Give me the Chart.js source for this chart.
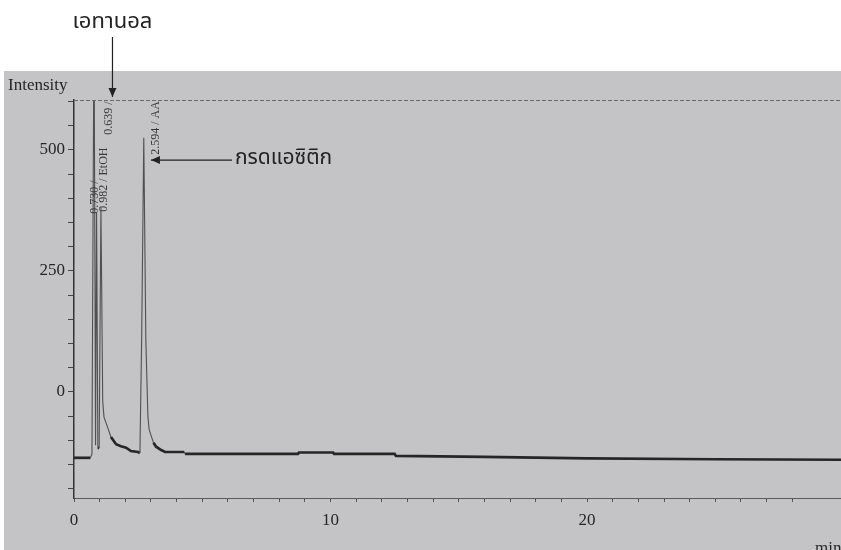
<!DOCTYPE html>
<html>
<head>
<meta charset="utf-8">
<script src="https://cdn.jsdelivr.net/npm/chart.js@4.4.3/dist/chart.umd.min.js"></script>
<style>
  html, body { margin: 0; padding: 0; background: #fff; }
  #chromatogram { display: block; }
</style>
</head>
<body>
<canvas id="chromatogram" width="841" height="550"></canvas>
<script>
// retention time (min) and detector intensity
const timeMin = [
  0, 0.64, 0.70, 0.78, 0.84, 0.88, 0.93, 0.98, 1.05, 1.12, 1.17,
  1.29, 1.44, 1.64, 1.83, 2.03, 2.22, 2.50, 2.57, 2.64, 2.72, 2.80,
  2.88, 2.93, 3.10, 3.20, 3.40, 3.55, 4.30, 4.33, 8.73, 8.77, 10.10,
  10.14, 12.50, 12.55, 16.0, 20.0, 25.0, 30.0
];
const intensity = [
  -136, -136, -128, 780, -110, 370, -115, -116, 380, -20, -52,
  -70, -93, -108, -112, -115, -122, -124, -126, 120, 525, 110,
  -50, -78, -105, -113, -120, -124, -124, -128, -128, -125, -125,
  -128, -128, -132, -134, -137, -139, -140
];
const yTickValues = [-200, -150, -100, -50, 0, 50, 100, 150, 200, 250, 300, 350, 400, 450, 500, 550, 600];
const yLabelled = [0, 250, 500];
const xLabelled = [0, 10, 20];
const peakLabels = ["0.730 /", "0.982 / EtOH", "0.639 /", "2.594 / AA"];
const ethanolLabel = "เอทานอล";
const aceticLabel = "กรดแอซิติก";

const ink = "#262626";
const serif = "'Liberation Serif', 'Times New Roman', serif";
const thai = "'Noto Sans Thai', 'Noto Sans Thai UI', Loma, Garuda, 'Tlwg Typo', 'DejaVu Sans', sans-serif";

function arrow(ctx, x0, y0, x1, y1) {
  const a = Math.atan2(y1 - y0, x1 - x0);
  ctx.beginPath();
  ctx.moveTo(x0, y0);
  ctx.lineTo(x1, y1);
  ctx.stroke();
  ctx.beginPath();
  ctx.moveTo(x1, y1);
  ctx.lineTo(x1 - 9 * Math.cos(a) + 4 * Math.sin(a), y1 - 9 * Math.sin(a) - 4 * Math.cos(a));
  ctx.lineTo(x1 - 9 * Math.cos(a) - 4 * Math.sin(a), y1 - 9 * Math.sin(a) + 4 * Math.cos(a));
  ctx.closePath();
  ctx.fill();
}

const paperPlugin = {
  id: "paper",
  beforeDraw(chart) {
    const ctx = chart.ctx;
    ctx.save();
    ctx.fillStyle = "#ffffff";
    ctx.fillRect(0, 0, chart.width, chart.height);
    ctx.fillStyle = "#c4c4c6";
    ctx.fillRect(4, 71, chart.width - 4, chart.height - 71);
    ctx.restore();
  },
  afterDraw(chart) {
    const { ctx, chartArea } = chart;
    const xs = chart.scales.x, ys = chart.scales.y;
    ctx.save();
    // dashed top frame line
    ctx.strokeStyle = "#6a6a6a";
    ctx.lineWidth = 1;
    ctx.setLineDash([4, 2]);
    ctx.beginPath();
    ctx.moveTo(chartArea.left, chartArea.top + 0.5);
    ctx.lineTo(chart.width, chartArea.top + 0.5);
    ctx.stroke();
    ctx.setLineDash([]);

    ctx.fillStyle = ink;
    ctx.font = "17px " + serif;
    ctx.textBaseline = "alphabetic";
    ctx.textAlign = "left";
    ctx.fillText("Intensity", 8, 90);
    ctx.fillText("min", 815, 553);

    // rotated peak labels
    const spots = [[0.80, 368], [1.15, 372], [1.35, 531], [3.2, 490]];
    ctx.font = "12px " + serif;
    ctx.fillStyle = "#3a3a3a";
    peakLabels.forEach((txt, i) => {
      ctx.save();
      ctx.translate(xs.getPixelForValue(spots[i][0]), ys.getPixelForValue(spots[i][1]));
      ctx.rotate(-Math.PI / 2);
      ctx.textAlign = "left";
      ctx.textBaseline = "middle";
      ctx.fillText(txt, 0, 0);
      ctx.restore();
    });

    // annotations
    ctx.strokeStyle = "#222";
    ctx.fillStyle = "#222";
    ctx.lineWidth = 1.2;
    const ex = xs.getPixelForValue(1.5);
    arrow(ctx, ex, 37, ex, 97);
    ctx.font = "22px " + thai;
    ctx.textAlign = "center";
    ctx.textBaseline = "middle";
    ctx.fillText(ethanolLabel, ex, 24);

    const ay = ys.getPixelForValue(479);
    ctx.font = "21px " + thai;
    arrow(ctx, 232, ay, xs.getPixelForValue(3.0), ay);
    ctx.textAlign = "left";
    ctx.fillText(aceticLabel, 235, ay);
    ctx.restore();
  }
};

new Chart(document.getElementById("chromatogram"), {
  type: "line",
  data: {
    datasets: [{
      data: timeMin.map((t, i) => ({ x: t, y: intensity[i] })),
      borderColor: ink,
      borderWidth: 2.6,
      pointRadius: 0,
      tension: 0,
      fill: false,
      segment: {
        borderWidth: c => {
          const dx = Math.abs(c.p1.x - c.p0.x) || 0.01;
          return Math.abs(c.p1.y - c.p0.y) / dx > 2 ? 1.1 : 2.7;
        },
        borderColor: c => {
          const dx = Math.abs(c.p1.x - c.p0.x) || 0.01;
          return Math.abs(c.p1.y - c.p0.y) / dx > 2 ? "#505050" : ink;
        }
      }
    }]
  },
  options: {
    responsive: false,
    animation: false,
    devicePixelRatio: 1,
    layout: { padding: { top: 100, right: 0, left: 0, bottom: 0 } },
    plugins: { legend: { display: false }, tooltip: { enabled: false } },
    scales: {
      x: {
        type: "linear",
        min: 0,
        max: 29.9,
        afterFit: s => { s.height = 52; s.paddingRight = 0; s.paddingLeft = 0; },
        ticks: {
          stepSize: 1,
          autoSkip: false,
          maxRotation: 0,
          padding: 8,
          color: ink,
          font: { family: serif, size: 17 },
          callback: v => (xLabelled.includes(v) ? String(v) : "")
        },
        grid: { drawOnChartArea: false, drawTicks: true, tickLength: 4, color: "#555" },
        border: { display: true, color: "#5a5a5a", dash: [4, 2], width: 1 }
      },
      y: {
        min: -219,
        max: 603,
        afterFit: s => { s.width = 74; },
        afterBuildTicks: s => { s.ticks = yTickValues.map(v => ({ value: v })); },
        ticks: {
          autoSkip: false,
          padding: 3,
          color: ink,
          font: { family: serif, size: 17 },
          callback: v => (yLabelled.includes(v) ? String(v) : "")
        },
        grid: { drawOnChartArea: false, drawTicks: true, tickLength: 6, color: "#444" },
        border: { display: true, color: "#333", width: 1.5 }
      }
    }
  },
  plugins: [paperPlugin]
});
</script>
</body>
</html>
